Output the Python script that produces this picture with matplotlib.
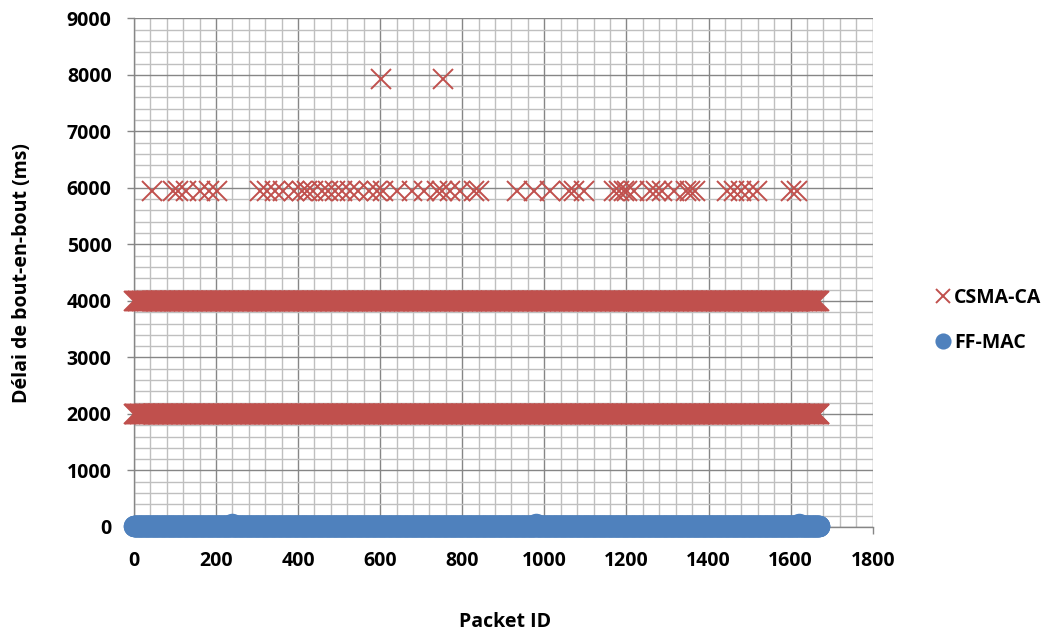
import numpy as np
import matplotlib
matplotlib.use('Agg')
import matplotlib.pyplot as plt
from matplotlib.ticker import MultipleLocator

plt.rcParams['font.family'] = ['Open Sans', 'DejaVu Sans']
plt.rcParams['font.weight'] = 'bold'

# CSMA-CA: dense bands span every packet id, plus sparse retransmissions
packet_first = 0
packet_last = 1670
csma_band_levels = [2000, 4000]

csma_6000_ids = [45, 96, 108, 128, 161, 184, 202, 307, 324, 344, 364, 389, 409,
                 421, 437, 458, 474, 490, 507, 527, 547, 572, 592, 608, 641, 677,
                 706, 738, 751, 771, 795, 828, 840, 933, 974, 1015, 1059, 1072,
                 1096, 1169, 1181, 1193, 1202, 1218, 1258, 1271, 1287, 1315, 1344,
                 1356, 1368, 1445, 1462, 1478, 1498, 1518, 1600, 1616]
csma_6000_delay = 5950
csma_8000_ids = [602, 752]
csma_8000_delay = 7930

# FF-MAC: flat low delay with a few slightly higher packets
ffmac_delay = 20
ffmac_peak_ids = [240, 980, 1620]
ffmac_peak_delay = 60

x_ticks = [0, 200, 400, 600, 800, 1000, 1200, 1400, 1600, 1800]
y_ticks = [0, 1000, 2000, 3000, 4000, 5000, 6000, 7000, 8000, 9000]

red = '#C0504D'
blue = '#4F81BD'

ids = np.arange(packet_first, packet_last + 1)

# split the dense bands between the two levels
csma_x = []
csma_y = []
for i, lvl in enumerate(csma_band_levels):
    sel = ids[i::2]
    csma_x.extend(sel)
    csma_y.extend([lvl] * len(sel))
csma_x.extend(csma_6000_ids)
csma_y.extend([csma_6000_delay] * len(csma_6000_ids))
csma_x.extend(csma_8000_ids)
csma_y.extend([csma_8000_delay] * len(csma_8000_ids))

ff_y = np.full(len(ids), ffmac_delay, dtype=float)
for pid in ffmac_peak_ids:
    ff_y[pid - packet_first] = ffmac_peak_delay

fig = plt.figure(figsize=(10.54, 6.37), dpi=100)
ax = fig.add_axes([0.127, 0.1727, 0.701, 0.7986])

ax.plot(csma_x, csma_y, linestyle='none', marker='x', markersize=14,
        markeredgewidth=1.4, color=red, label='CSMA-CA', zorder=3, clip_on=False)
ax.plot(ids, ff_y, linestyle='none', marker='o', markersize=15.5,
        markeredgewidth=0, color=blue, label='FF-MAC', zorder=4, clip_on=False)

ax.set_xlim(0, 1800)
ax.set_ylim(0, 9000)
ax.set_xticks(x_ticks)
ax.set_yticks(y_ticks)
ax.xaxis.set_minor_locator(MultipleLocator(40))
ax.yaxis.set_minor_locator(MultipleLocator(200))
ax.grid(which='major', color='#868686', linewidth=1.0, zorder=0)
ax.grid(which='minor', color='#BFBFBF', linewidth=1.0, zorder=0)
ax.set_axisbelow(True)

for s in ['top', 'right']:
    ax.spines[s].set_visible(False)
for s in ['left', 'bottom']:
    ax.spines[s].set_color('#868686')
    ax.spines[s].set_linewidth(1.0)

ax.tick_params(which='major', direction='out', length=5, width=1,
               color='#868686', labelsize=14)
ax.tick_params(axis='x', pad=12)
ax.tick_params(axis='y', pad=11)
ax.tick_params(which='minor', length=0)
for lab in ax.get_xticklabels() + ax.get_yticklabels():
    lab.set_fontweight('bold')

fig.text(0.479, 0.008, 'Packet ID', ha='center', va='bottom',
         fontsize=14, fontweight='bold')
fig.text(0.021, 0.571, 'Délai de bout-en-bout (ms)', ha='center', va='center',
         rotation=90, fontsize=14, fontweight='bold')

leg = fig.legend(loc='center left', bbox_to_anchor=(0.869, 0.497), frameon=False,
                 prop={'size': 14, 'weight': 'bold'}, handletextpad=0.05,
                 labelspacing=1.3, markerscale=0.75, handlelength=1.0)

fig.savefig('out.png', dpi=100)
